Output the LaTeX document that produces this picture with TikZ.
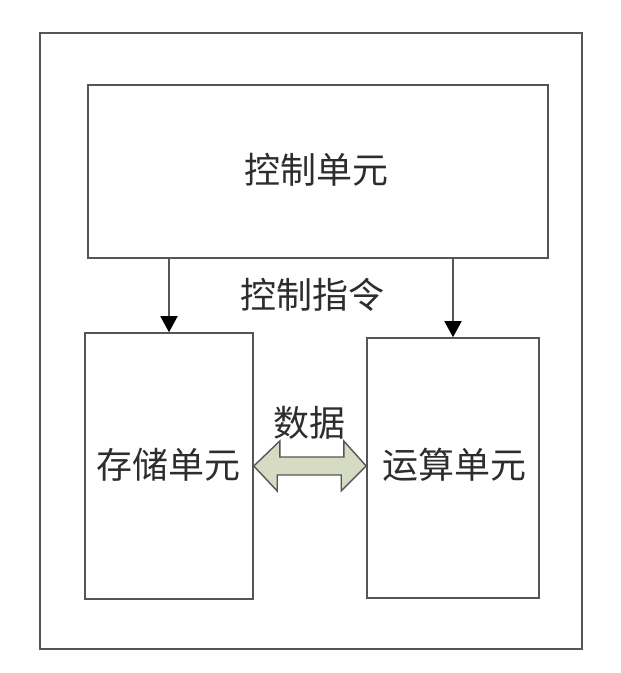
\documentclass[tikz,border=0pt]{standalone}
\usepackage{fontspec}
\newfontfamily\cjk{Noto Sans CJK SC}
\usepackage{tikz}
\usetikzlibrary{arrows.meta}

\definecolor{linegray}{RGB}{85,85,85}
\definecolor{textgray}{RGB}{45,45,45}
\definecolor{busgreen}{RGB}{214,220,196}

\tikzset{
  unitbox/.style={draw=linegray, line width=1.6pt, inner sep=0pt},
  unitlabel/.style={text=textgray, font=\cjk\fontsize{36}{40}\selectfont},
  ctrlarrow/.style={draw=linegray, line width=1.6pt, -{Triangle[length=16pt,width=17pt,color=black]}},
  databus/.style={draw=linegray, line width=1.4pt, fill=busgreen, line join=miter}
}

\begin{document}
\begin{tikzpicture}[x=1pt, y=-1pt]

\useasboundingbox (0,0) rectangle (621,673);

% Outer frame
\draw[linegray, line width=1.6pt] (40,33) rectangle (582,649);

% Control unit
\node[unitbox, minimum width=460pt, minimum height=173pt] (ctrl) at (318,171.5) {};
\node[unitlabel] (ctrltext) at (316,170) {控制单元};

% Storage unit
\node[unitbox, minimum width=168pt, minimum height=266pt] (store) at (169,466) {};
\node[unitlabel] (storetext) at (168,465) {存储单元};

% Arithmetic unit
\node[unitbox, minimum width=172pt, minimum height=260pt] (calc) at (453,468) {};
\node[unitlabel] (calctext) at (454,465) {运算单元};

% Control signals
\draw[ctrlarrow] (ctrl.south -| store.north) -- (store.north);
\draw[ctrlarrow] (ctrl.south -| calc.north) -- (calc.north);
\node[unitlabel] (cmdtext) at (312,295) {控制指令};

% Data path (double arrow)
\draw[databus] (store.east) -- ++(26,-25) -- ++(0,16) -- ++(64,0) -- ++(0,-16)
  -- (calc.west |- store.east) -- ++(-25,25) -- ++(0,-16) -- ++(-64,0)
  -- ++(0,16) -- cycle;
\node[unitlabel] (datatext) at (309,423) {数据};

\end{tikzpicture}
\end{document}
